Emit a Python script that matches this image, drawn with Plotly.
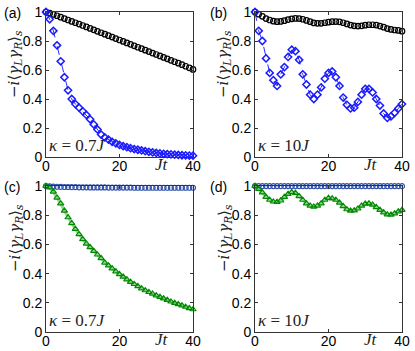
import plotly.graph_objects as go

# time axis Jt
t = list(range(0, 41))

# (a) kappa = 0.7J
a_black = [1.000, 0.992, 0.983, 0.974, 0.964, 0.955, 0.945, 0.935, 0.926, 0.917,
           0.907, 0.897, 0.887, 0.877, 0.867, 0.857, 0.847, 0.837, 0.827, 0.817,
           0.807, 0.797, 0.787, 0.777, 0.767, 0.757, 0.747, 0.737, 0.727, 0.717,
           0.707, 0.697, 0.687, 0.677, 0.667, 0.657, 0.647, 0.637, 0.626, 0.615, 0.604]
a_blue = [1.00, 0.95, 0.87, 0.77, 0.66, 0.55, 0.46, 0.40, 0.365, 0.34,
          0.315, 0.29, 0.26, 0.225, 0.19, 0.155, 0.135, 0.12, 0.105, 0.094,
          0.083, 0.075, 0.068, 0.061, 0.055, 0.050, 0.045, 0.040, 0.036, 0.032,
          0.028, 0.025, 0.022, 0.020, 0.018, 0.016, 0.014, 0.012, 0.011, 0.010, 0.009]

# (b) kappa = 10J
b_black = [1.000, 0.985, 0.970, 0.955, 0.945, 0.937, 0.933, 0.935, 0.940, 0.948,
           0.953, 0.956, 0.955, 0.950, 0.942, 0.933, 0.925, 0.922, 0.922, 0.926,
           0.930, 0.933, 0.934, 0.932, 0.926, 0.918, 0.910, 0.905, 0.903, 0.905,
           0.909, 0.912, 0.912, 0.910, 0.903, 0.895, 0.886, 0.880, 0.876, 0.873, 0.868]
b_blue = [1.00, 0.87, 0.80, 0.68, 0.58, 0.53, 0.49, 0.57, 0.62, 0.69,
          0.74, 0.73, 0.67, 0.57, 0.50, 0.43, 0.40, 0.43, 0.48, 0.54,
          0.58, 0.59, 0.55, 0.49, 0.41, 0.36, 0.335, 0.34, 0.38, 0.43,
          0.47, 0.47, 0.445, 0.40, 0.355, 0.30, 0.27, 0.28, 0.305, 0.335, 0.365]

# (c) kappa = 0.7J
c_blue = [1.000, 0.998, 0.996, 0.995, 0.994, 0.993, 0.993, 0.992, 0.992, 0.991,
          0.991, 0.991, 0.990, 0.990, 0.990, 0.990, 0.990, 0.989, 0.989, 0.989,
          0.989, 0.989, 0.989, 0.989, 0.988, 0.988, 0.988, 0.988, 0.988, 0.988,
          0.988, 0.988, 0.988, 0.988, 0.988, 0.988, 0.988, 0.988, 0.988, 0.988, 0.988]
c_green = [1.000, 0.990, 0.960, 0.920, 0.880, 0.830, 0.785, 0.745, 0.705, 0.670,
           0.635, 0.605, 0.580, 0.555, 0.530, 0.505, 0.475, 0.455, 0.435, 0.415,
           0.395, 0.378, 0.360, 0.343, 0.328, 0.313, 0.298, 0.285, 0.273, 0.262,
           0.250, 0.240, 0.229, 0.219, 0.208, 0.198, 0.190, 0.181, 0.172, 0.163, 0.155]

# (d) kappa = 10J
d_blue = [1.000, 0.999, 0.999, 0.999, 0.999, 0.999, 0.999, 0.999, 0.999, 0.999,
          0.999, 0.999, 0.999, 0.999, 0.999, 0.999, 0.999, 0.999, 0.999, 0.999,
          0.999, 0.999, 0.999, 0.999, 0.999, 0.999, 0.999, 0.999, 0.999, 0.999,
          0.999, 0.999, 0.999, 0.999, 0.999, 0.999, 0.999, 0.999, 0.999, 0.999, 0.999]
d_green = [1.000, 0.980, 0.955, 0.925, 0.905, 0.893, 0.890, 0.900, 0.925, 0.945,
           0.958, 0.952, 0.930, 0.905, 0.880, 0.865, 0.858, 0.865, 0.880, 0.905,
           0.918, 0.915, 0.905, 0.885, 0.862, 0.840, 0.830, 0.832, 0.845, 0.865,
           0.878, 0.880, 0.872, 0.855, 0.835, 0.818, 0.805, 0.803, 0.812, 0.825, 0.835]

panel_labels = ["(a)", "(b)", "(c)", "(d)"]
kappa_labels = ["<i>κ</i> = 0.7<i>J</i>", "<i>κ</i> = 10<i>J</i>",
                "<i>κ</i> = 0.7<i>J</i>", "<i>κ</i> = 10<i>J</i>"]
ytitle = "−<i>i</i>⟨<i>γ<sub>L</sub>γ<sub>R</sub></i>⟩<sub><i>s</i></sub>"

W, H = 415, 351
xdom = [[46 / W, 193 / W], [255 / W, 402 / W]]
ydom = [[(H - 157) / H, (H - 12) / H], [(H - 332) / H, (H - 186) / H]]

fig = go.Figure()

def add(idx, y, kind):
    ax = "" if idx == 1 else str(idx)
    xa, ya = "x" + ax, "y" + ax
    if kind == "black":
        fig.add_trace(go.Scatter(x=t, y=y, xaxis=xa, yaxis=ya, mode="markers",
                                 marker=dict(symbol="circle-open", size=5.5, color="black",
                                             line=dict(width=1.2)),
                                 cliponaxis=False))
    elif kind == "diamond":
        fig.add_trace(go.Scatter(x=t, y=y, xaxis=xa, yaxis=ya, mode="lines+markers",
                                 line=dict(color="#2a2aff", width=1, dash="dash"),
                                 marker=dict(symbol="diamond-open", size=5.5, color="#1a1aff",
                                             line=dict(width=1.5)),
                                 cliponaxis=False))
    elif kind == "circle":
        fig.add_trace(go.Scatter(x=t, y=y, xaxis=xa, yaxis=ya, mode="markers",
                                 marker=dict(symbol="circle-open", size=5, color="#3050a8",
                                             line=dict(width=1.2)),
                                 cliponaxis=False))
    elif kind == "triangle":
        fig.add_trace(go.Scatter(x=t, y=y, xaxis=xa, yaxis=ya, mode="lines",
                                 line=dict(color="rgba(120,200,120,0.8)", width=3),
                                 cliponaxis=False))
        fig.add_trace(go.Scatter(x=t, y=y, xaxis=xa, yaxis=ya, mode="markers",
                                 marker=dict(symbol="triangle-up-open", size=5.5, color="#008a00",
                                             line=dict(width=1.2)),
                                 cliponaxis=False))

add(1, a_black, "black")
add(1, a_blue, "diamond")
add(2, b_black, "black")
add(2, b_blue, "diamond")
add(3, c_blue, "circle")
add(3, c_green, "triangle")
add(4, d_blue, "circle")
add(4, d_green, "triangle")

tickfont = dict(family="Liberation Sans, Arial", size=14, color="black")
axis_common = dict(showgrid=False, zeroline=False, showline=True, linecolor="#333",
                   linewidth=1, mirror="ticks", ticks="inside", ticklen=3,
                   tickcolor="#333", tickfont=tickfont, automargin=False)

layout = dict(template="none", width=W, height=H, margin=dict(l=0, r=0, t=0, b=0),
              paper_bgcolor="white", plot_bgcolor="white", showlegend=False)
annotations = []
for i in range(4):
    col, row = i % 2, i // 2
    ax = "" if i == 0 else str(i + 1)
    layout["xaxis" + ax] = dict(axis_common, domain=xdom[col], range=[0, 40],
                                tickvals=[0, 20, 40], ticktext=["0", "20", "40"],
                                ticklabelstandoff=-4, anchor="y" + ax)
    layout["yaxis" + ax] = dict(axis_common, domain=ydom[row], range=[0, 1],
                                tickvals=[0, 0.2, 0.4, 0.6, 0.8, 1],
                                ticktext=["0", "0.2", "0.4", "0.6", "0.8", "1"],
                                anchor="x" + ax)
    x0 = xdom[col][0]
    top = ydom[row][1]
    annotations.append(dict(xref="paper", yref="paper", x=2 / W + col * 206 / W, y=top - 1 / H,
                            text=panel_labels[i], showarrow=False, xanchor="left",
                            yanchor="middle", font=dict(family="Liberation Sans, Arial",
                                                        size=14, color="black")))
    annotations.append(dict(xref="paper", yref="paper", x=x0 - 31 / W,
                            y=top - 52 / H, text=ytitle, textangle=-90, showarrow=False,
                            xanchor="center", yanchor="middle",
                            font=dict(family="DejaVu Serif", size=15, color="#222")))
    annotations.append(dict(xref="x" + ax, yref="y" + ax, x=0.3, y=0.08,
                            text=kappa_labels[i], showarrow=False, xanchor="left",
                            yanchor="middle",
                            font=dict(family="Liberation Serif", size=17, color="#222")))
    annotations.append(dict(xref="x" + ax, yref="y" + ax, x=31.5, y=0,
                            yshift=4, text="<i>Jt</i>", showarrow=False,
                            xanchor="center", yanchor="top",
                            font=dict(family="Liberation Serif", size=17, color="#222")))
layout["annotations"] = annotations
fig.update_layout(**layout)

fig.write_html("out.html", config={"displayModeBar": False},
               post_script="document.body.style.margin='0';")
